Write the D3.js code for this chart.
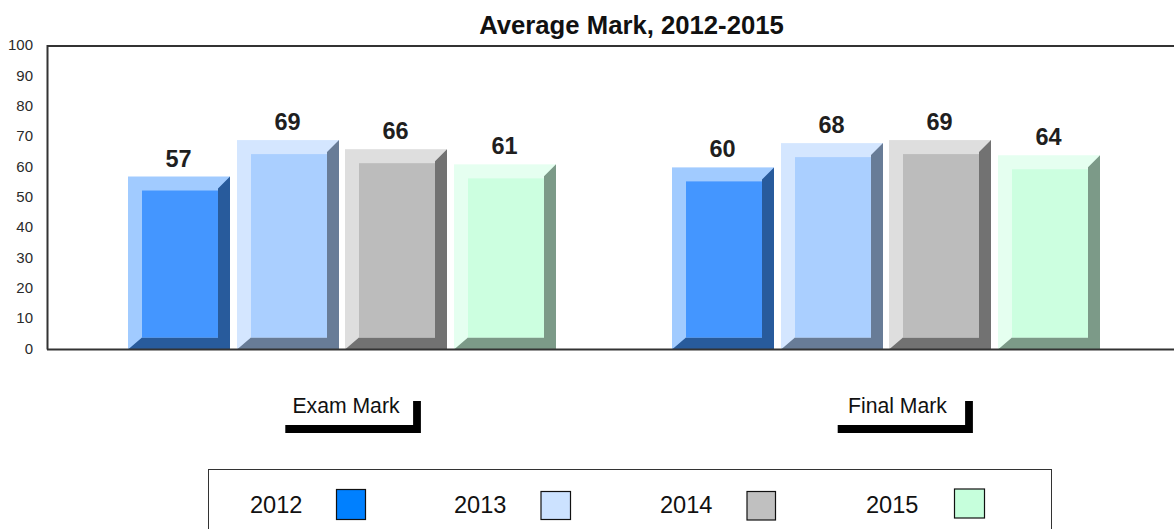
<!DOCTYPE html>
<html><head><meta charset="utf-8">
<script src="https://d3js.org/d3.v7.min.js"></script>
<style>html,body{margin:0;padding:0;background:#fff;overflow:hidden}svg{display:block}text{font-family:"Liberation Sans",Arial,sans-serif}</style>
</head><body><svg id="c" width="1174" height="529"></svg>
<script>
const categories=["Exam Mark","Final Mark"];
const years=["2012","2013","2014","2015"];
const values2012=[57,60];
const values2013=[69,68];
const values2014=[66,69];
const values2015=[61,64];
const yTicks=[0,10,20,30,40,50,60,70,80,90,100];
const faceColors=["#4496ff","#aacfff","#bcbcbc","#ccffe0"];
const lightColors=["#a1cbff","#d4e6ff","#dedede","#e5fff0"];
const darkColors=["#285b9c","#687c97","#727272","#7c9a88"];
const legendColors=["#0080ff","#cce2ff","#c0c0c0","#c6ffdc"];
const series=[values2012,values2013,values2014,values2015];

const svg=d3.select("#c");
const y=d3.scaleLinear().domain([0,100]).range([349.5,46]);
const x0=d3.scaleOrdinal().domain(categories).range([128,672]);
const x1=d3.scaleBand().domain(years).range([0,428]).paddingInner(0.06);
const bevNear=14, bevFar=12;

categories.forEach((c,ci)=>{
  years.forEach((yr,si)=>{
    const v=series[si][ci];
    const l=Math.round(x0(c)+x1(yr)), w=Math.round(x1.bandwidth()), r=l+w, t=y(v), b=y(0);
    const g=svg.append("g");
    g.append("rect").attr("x",l).attr("y",t).attr("width",w).attr("height",b-t).attr("fill",lightColors[si]);
    g.append("path").attr("d",`M${r},${t}L${r},${b}L${l},${b}L${l+bevNear},${b-bevFar}L${r-bevFar},${b-bevFar}L${r-bevFar},${t+bevFar}Z`).attr("fill",darkColors[si]);
    g.append("rect").attr("x",l+bevNear).attr("y",t+bevNear).attr("width",w-bevNear-bevFar).attr("height",b-t-bevNear-bevFar).attr("fill",faceColors[si]);
    svg.append("text").attr("x",(l+r)/2-0.5).attr("y",t-10).attr("text-anchor","middle")
      .attr("font-size",23.5).attr("font-weight","bold").attr("fill","#1f1f1f").text(v);
  });
});

const axis=d3.axisLeft(y).tickValues(yTicks).tickSize(0).tickPadding(14.5);
const ga=svg.append("g").attr("transform","translate(47.5,-1)").call(axis);
ga.select(".domain").remove();
ga.selectAll("text").attr("fill","#2a2a2a").attr("style",'font-family:"Liberation Sans",Arial,sans-serif;font-size:15px');

svg.append("path").attr("d",`M47.5,${y(0)}V${y(100)}H1174`).attr("fill","none").attr("stroke","#333").attr("stroke-width",2);
svg.append("path").attr("d",`M47,${y(0)}H1174`).attr("fill","none").attr("stroke","#333").attr("stroke-width",2);

svg.append("text").attr("x",631.5).attr("y",34).attr("text-anchor","middle").attr("font-size",25.7).attr("font-weight","bold").attr("fill","#111").text("Average Mark, 2012-2015");

const catLabelX={"Exam Mark":346,"Final Mark":897.5};
const bracket={"Exam Mark":[285.3,421],"Final Mark":[837.7,973]};
categories.forEach(c=>{
  svg.append("text").attr("x",catLabelX[c]).attr("y",413).attr("text-anchor","middle").attr("font-size",21.2).attr("fill","#111").text(c);
  const [a,b]=bracket[c];
  svg.append("path").attr("d",`M${a},429H${b-4}V401`).attr("fill","none").attr("stroke","#000").attr("stroke-width",7.8);
});

svg.append("rect").attr("x",208.5).attr("y",469.5).attr("width",843).attr("height",70).attr("fill","#fff").attr("stroke","#333").attr("stroke-width",1);
const legX=[250,454,660,866];
const swX=[336.5,541,747,954.5],swY=[489.5,491.5,491.5,489],swH=[30,28,28.5,29],swW=[29,29.5,28.5,30];
years.forEach((yr,i)=>{
  svg.append("text").attr("x",legX[i]).attr("y",513).attr("font-size",23.6).attr("fill","#111").text(yr);
  svg.append("rect").attr("x",swX[i]).attr("y",swY[i]).attr("width",swW[i]).attr("height",swH[i]).attr("fill",legendColors[i]).attr("stroke","#111").attr("stroke-width",1.2);
});
</script></body></html>
